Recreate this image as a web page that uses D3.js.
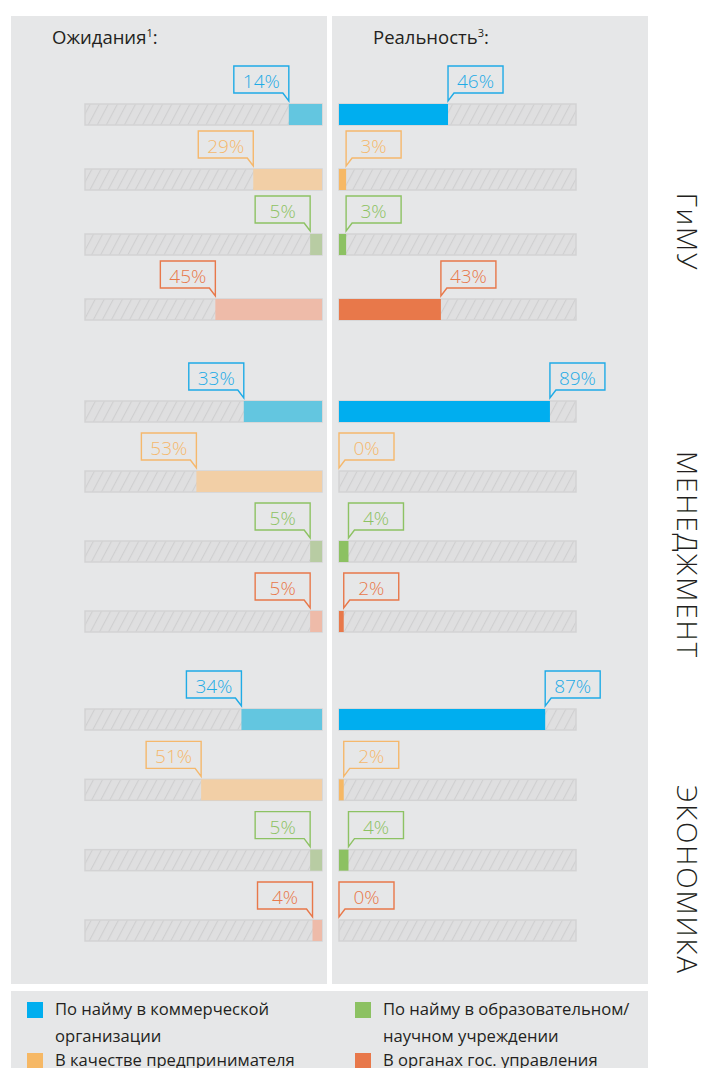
<!DOCTYPE html>
<html>
<head>
<meta charset="utf-8">
<script src="https://cdn.jsdelivr.net/npm/d3@7"></script>
<style>
  body { margin: 0; background: #fff; }
  svg { display: block; font-family: "Open Sans", sans-serif; }
</style>
</head>
<body>
<svg id="chart"></svg>
<script>
// data
var groups = ["ГиМУ", "МЕНЕДЖМЕНТ", "ЭКОНОМИКА"];
var categories = ["По найму в коммерческой организации", "В качестве предпринимателя",
  "По найму в образовательном/научном учреждении", "В органах гос. управления"];
var expected = [[14, 29, 5, 45], [33, 53, 5, 5], [34, 51, 5, 4]];
var reality = [[46, 3, 3, 43], [89, 0, 4, 2], [87, 2, 4, 0]];
var legendLines = [["По найму в коммерческой", "организации"], ["В качестве предпринимателя"],
  ["По найму в образовательном/", "научном учреждении"], ["В органах гос. управления"]];

var colorsReal = ["#00aeef", "#f6b865", "#8cc162", "#e8784a"];
var colorsExp = ["#63c6e0", "#f2cfa6", "#b8cca3", "#eebba9"];
var colorsLine = ["#1fabe6", "#f5b86c", "#8dc263", "#e8784a"];

var width = 702, height = 1068;
var barH = 21;

var svg = d3.select("#chart").attr("width", width).attr("height", height);

// hatch pattern for empty part of bars
var defs = svg.append("defs");
var pat = defs.append("pattern")
    .attr("id", "hatch")
    .attr("patternUnits", "userSpaceOnUse")
    .attr("width", 8).attr("height", 8)
    .attr("patternTransform", "rotate(28)");
pat.append("rect").attr("width", 8).attr("height", 8).attr("fill", "#dfdfe0");
pat.append("line").attr("x1", 0).attr("y1", 0).attr("x2", 0).attr("y2", 8)
    .attr("stroke", "#cfcfd0").attr("stroke-width", 2.2);

// panels
svg.append("rect").attr("x", 11).attr("y", 16).attr("width", 316).attr("height", 968).attr("fill", "#e6e7e8");
svg.append("rect").attr("x", 332).attr("y", 16).attr("width", 316).attr("height", 968).attr("fill", "#e6e7e8");
svg.append("rect").attr("x", 11).attr("y", 991).attr("width", 637).attr("height", 90).attr("fill", "#e6e7e8");

// headers
var h1 = svg.append("text").attr("x", 52).attr("y", 44).attr("font-size", 18.5).attr("fill", "#231f20");
h1.append("tspan").text("Ожидания");
h1.append("tspan").attr("font-size", 11).attr("dy", -7).text("1");
h1.append("tspan").attr("dy", 7).text(":");
var h2 = svg.append("text").attr("x", 373).attr("y", 44).attr("font-size", 18.5).attr("fill", "#231f20");
h2.append("tspan").text("Реальность");
h2.append("tspan").attr("font-size", 11).attr("dy", -7).text("3");
h2.append("tspan").attr("dy", 7).text(":");

// scales
var xLeft = d3.scaleLinear().domain([0, 100]).range([322, 85]);
var xRight = d3.scaleLinear().domain([0, 100]).range([339, 576]);
var groupTop = [104, 401, 709];
var groupBottom = [299, 611, 920];
var labelCenter = [232, 555, 880];

function callout(g, tipX, barY, value, color, side) {
  var bw = 55, bh = 27;
  var bottom = barY - 11, top = bottom - bh, tipY = barY - 3;
  var x0 = side < 0 ? tipX - bw : tipX;
  var path = side < 0
    ? "M" + (tipX - 6) + "," + bottom + "L" + tipX + "," + tipY + "L" + tipX + "," + top +
      "L" + (tipX - bw) + "," + top + "L" + (tipX - bw) + "," + bottom + "Z"
    : "M" + (tipX + 6) + "," + bottom + "L" + tipX + "," + tipY + "L" + tipX + "," + top +
      "L" + (tipX + bw) + "," + top + "L" + (tipX + bw) + "," + bottom + "Z";
  g.append("path").attr("d", path).attr("fill", "none")
    .attr("stroke", color).attr("stroke-width", 1.4).attr("stroke-linejoin", "miter");
  g.append("text").attr("x", x0 + bw / 2).attr("y", bottom - 5)
    .attr("text-anchor", "middle").attr("font-size", 19).attr("font-weight", 300)
    .attr("fill", color).text(value + "%");
}

groups.forEach(function (grp, gi) {
  var y = d3.scalePoint().domain(categories).range([groupTop[gi], groupBottom[gi]]);
  var g = svg.append("g");

  categories.forEach(function (cat, ci) {
    var by = y(cat);
    // expectations (left, grows from the right)
    g.append("rect").attr("x", xLeft(100)).attr("y", by)
      .attr("width", xLeft(0) - xLeft(100)).attr("height", barH)
      .attr("fill", "url(#hatch)").attr("stroke", "#d3d3d4").attr("stroke-width", 1.5);
    g.append("rect").attr("x", xLeft(expected[gi][ci])).attr("y", by)
      .attr("width", xLeft(0) - xLeft(expected[gi][ci])).attr("height", barH)
      .attr("fill", colorsExp[ci]);
    callout(g, xLeft(expected[gi][ci]), by, expected[gi][ci], colorsLine[ci], -1);

    // reality (right, grows from the left)
    g.append("rect").attr("x", xRight(0)).attr("y", by)
      .attr("width", xRight(100) - xRight(0)).attr("height", barH)
      .attr("fill", "url(#hatch)").attr("stroke", "#d3d3d4").attr("stroke-width", 1.5);
    g.append("rect").attr("x", xRight(0)).attr("y", by)
      .attr("width", xRight(reality[gi][ci]) - xRight(0)).attr("height", barH)
      .attr("fill", colorsReal[ci]);
    callout(g, xRight(reality[gi][ci]), by, reality[gi][ci], colorsLine[ci], 1);
  });

  svg.append("text")
    .attr("transform", "translate(677," + labelCenter[gi] + ") rotate(90)")
    .attr("text-anchor", "middle")
    .attr("font-size", 28).attr("font-weight", 300).attr("letter-spacing", 1.8)
    .attr("fill", "#231f20").text(grp);
});

// legend
var legX = [27, 355], legY = [1002, 1053];
categories.forEach(function (cat, i) {
  var col = i < 2 ? 0 : 1, row = i % 2;
  var lg = svg.append("g");
  lg.append("rect").attr("x", legX[col]).attr("y", legY[row]).attr("width", 16).attr("height", 16)
    .attr("fill", colorsReal[i]);
  legendLines[i].forEach(function (line, li) {
    lg.append("text").attr("x", legX[col] + 28).attr("y", legY[row] + 13 + li * 27)
      .attr("font-size", 16.6).attr("fill", "#231f20").text(line);
  });
});
</script>
</body>
</html>
